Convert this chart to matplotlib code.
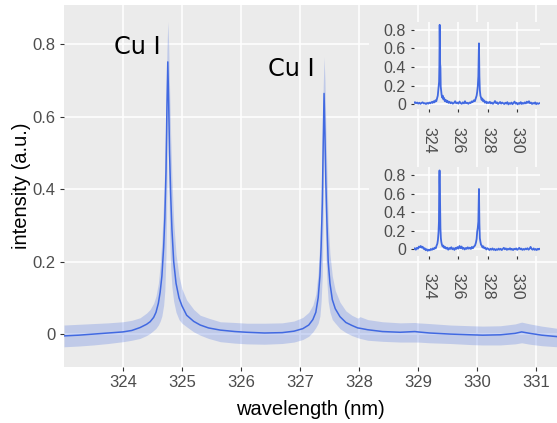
import matplotlib
matplotlib.use("Agg")
import matplotlib.pyplot as plt
from matplotlib.patches import Rectangle

# ---------------- data ----------------
main_wl = [323.00, 323.25, 323.50, 323.75, 324.00, 324.15, 324.29, 324.40, 324.46, 324.52,
           324.56, 324.60, 324.63, 324.66, 324.69, 324.71, 324.73, 324.745, 324.76, 324.775,
           324.79, 324.81, 324.83, 324.86, 324.90, 324.95, 325.00, 325.08, 325.20, 325.31,
           325.45, 325.65, 325.90, 326.10, 326.40, 326.70, 326.90, 327.05, 327.15, 327.22,
           327.27, 327.31, 327.34, 327.36, 327.38, 327.395, 327.41, 327.425, 327.44, 327.46,
           327.48, 327.51, 327.55, 327.60, 327.68, 327.78, 327.88, 327.98, 328.02, 328.15,
           328.40, 328.70, 328.95, 329.00, 329.20, 329.55, 329.90, 330.10, 330.40, 330.65,
           330.76, 330.90, 331.10, 331.36]
main_mean = [-0.005, -0.003, 0.000, 0.003, 0.006, 0.010, 0.018, 0.027, 0.034, 0.046,
             0.060, 0.085, 0.115, 0.160, 0.240, 0.320, 0.450, 0.620, 0.751, 0.640,
             0.500, 0.380, 0.290, 0.200, 0.140, 0.100, 0.078, 0.052, 0.035, 0.025,
             0.017, 0.011, 0.007, 0.005, 0.003, 0.004, 0.008, 0.015, 0.025, 0.040,
             0.060, 0.100, 0.160, 0.240, 0.360, 0.520, 0.664, 0.550, 0.420, 0.300,
             0.200, 0.140, 0.095, 0.070, 0.048, 0.032, 0.024, 0.017, 0.016, 0.012,
             0.007, 0.005, 0.007, 0.006, 0.003, 0.000, -0.002, -0.003, -0.002, 0.002,
             0.006, 0.002, -0.003, -0.007]
main_lo = [-0.035, -0.033, -0.030, -0.026, -0.021, -0.017, -0.012, -0.004, 0.002, 0.010,
           0.016, 0.025, 0.035, 0.050, 0.080, 0.120, 0.220, 0.400, 0.640, 0.450,
           0.280, 0.180, 0.130, 0.090, 0.060, 0.040, 0.030, 0.020, 0.006, -0.003,
           -0.012, -0.021, -0.025, -0.027, -0.028, -0.026, -0.022, -0.015, -0.006, 0.006,
           0.018, 0.030, 0.050, 0.090, 0.160, 0.320, 0.560, 0.360, 0.220, 0.140,
           0.090, 0.060, 0.040, 0.030, 0.015, 0.004, -0.004, -0.010, -0.012, -0.017,
           -0.020, -0.022, -0.022, -0.022, -0.024, -0.026, -0.029, -0.030, -0.030, -0.027,
           -0.024, -0.028, -0.032, -0.035]
main_hi = [0.025, 0.027, 0.029, 0.031, 0.034, 0.038, 0.045, 0.058, 0.068, 0.085,
           0.105, 0.140, 0.190, 0.260, 0.370, 0.470, 0.620, 0.780, 0.862, 0.800,
           0.680, 0.540, 0.430, 0.310, 0.220, 0.160, 0.125, 0.094, 0.068, 0.052,
           0.044, 0.034, 0.032, 0.030, 0.030, 0.031, 0.036, 0.046, 0.060, 0.080,
           0.110, 0.170, 0.260, 0.360, 0.520, 0.680, 0.765, 0.700, 0.570, 0.440,
           0.310, 0.220, 0.160, 0.120, 0.088, 0.064, 0.052, 0.044, 0.048, 0.040,
           0.034, 0.031, 0.032, 0.031, 0.029, 0.025, 0.023, 0.022, 0.023, 0.028,
           0.033, 0.028, 0.022, 0.016]

inset1_wl = [322.97, 323.05, 323.12, 323.20, 323.27, 323.35, 323.42, 323.50, 323.57, 323.65,
             323.72, 323.80, 323.88, 323.95, 324.02, 324.10, 324.18, 324.25, 324.32, 324.38,
             324.44, 324.50, 324.55, 324.60, 324.63, 324.66, 324.69, 324.71, 324.73, 324.75,
             324.76, 324.78, 324.80, 324.83, 324.86, 324.90, 324.94, 324.98, 325.03, 325.08,
             325.14, 325.20, 325.26, 325.33, 325.40, 325.47, 325.55, 325.62, 325.70, 325.78,
             325.85, 325.92, 326.00, 326.08, 326.15, 326.23, 326.30, 326.38, 326.45, 326.52,
             326.60, 326.68, 326.75, 326.83, 326.90, 326.97, 327.05, 327.12, 327.18, 327.24,
             327.28, 327.32, 327.36, 327.40, 327.43, 327.46, 327.50, 327.54, 327.58, 327.63,
             327.68, 327.74, 327.80, 327.87, 327.93, 328.00, 328.07, 328.14, 328.21, 328.28,
             328.35, 328.42, 328.49, 328.56, 328.63, 328.70, 328.77, 328.84, 328.91, 328.98,
             329.05, 329.12, 329.19, 329.26, 329.33, 329.40, 329.47, 329.54, 329.61, 329.68,
             329.75, 329.82, 329.89, 329.96, 330.03, 330.10, 330.17, 330.24, 330.31, 330.38,
             330.45, 330.52, 330.59, 330.66, 330.73, 330.80, 330.87, 330.94, 331.01, 331.08,
             331.15, 331.22, 331.29, 331.36, 331.43, 331.51]
inset1_int = [0.010, 0.020, 0.008, 0.016, 0.004, 0.014, 0.002, 0.012, 0.018, 0.006,
              0.010, 0.000, 0.012, 0.004, 0.016, 0.008, 0.022, 0.012, 0.030, 0.018,
              0.040, 0.030, 0.060, 0.090, 0.140, 0.200, 0.240, 0.420, 0.855, 0.600,
              0.430, 0.400, 0.190, 0.140, 0.100, 0.070, 0.090, 0.050, 0.065, 0.030,
              0.045, 0.020, 0.035, 0.012, 0.025, 0.008, 0.018, 0.004, 0.012, 0.030,
              0.008, 0.016, 0.004, 0.026, 0.010, 0.002, 0.018, 0.006, 0.030, 0.008,
              0.014, 0.002, 0.016, 0.010, 0.028, 0.020, 0.040, 0.030, 0.060, 0.090,
              0.130, 0.190, 0.300, 0.655, 0.300, 0.150, 0.090, 0.070, 0.045, 0.060,
              0.030, 0.040, 0.015, 0.028, 0.008, 0.020, 0.010, 0.024, 0.006, 0.016,
              0.002, 0.014, 0.032, 0.010, 0.018, 0.000, 0.012, 0.022, 0.004, 0.016,
              0.008, 0.000, 0.014, 0.004, 0.020, -0.004, 0.010, 0.002, 0.016, -0.002,
              0.012, 0.026, 0.004, 0.014, -0.004, 0.010, 0.002, 0.020, 0.000, 0.012,
              0.004, 0.018, 0.006, 0.026, 0.012, 0.030, 0.008, 0.016, 0.000, 0.012,
              0.004, 0.018, -0.002, 0.010, 0.002, 0.008]

inset2_wl = [322.97, 323.04, 323.11, 323.18, 323.25, 323.32, 323.38, 323.44, 323.50, 323.57,
             323.64, 323.71, 323.78, 323.85, 323.92, 323.99, 324.06, 324.13, 324.20, 324.27,
             324.34, 324.40, 324.46, 324.52, 324.57, 324.61, 324.65, 324.68, 324.70, 324.72,
             324.74, 324.76, 324.78, 324.81, 324.84, 324.88, 324.93, 324.98, 325.04, 325.10,
             325.17, 325.24, 325.31, 325.38, 325.45, 325.52, 325.59, 325.66, 325.73, 325.80,
             325.87, 325.94, 326.01, 326.08, 326.15, 326.22, 326.29, 326.36, 326.43, 326.50,
             326.57, 326.64, 326.71, 326.78, 326.85, 326.92, 326.99, 327.06, 327.13, 327.19,
             327.24, 327.28, 327.32, 327.36, 327.40, 327.43, 327.46, 327.50, 327.54, 327.59,
             327.64, 327.70, 327.76, 327.83, 327.90, 327.97, 328.04, 328.11, 328.18, 328.25,
             328.32, 328.39, 328.46, 328.53, 328.60, 328.67, 328.74, 328.81, 328.88, 328.95,
             329.02, 329.09, 329.16, 329.23, 329.30, 329.37, 329.44, 329.51, 329.58, 329.65,
             329.72, 329.79, 329.86, 329.93, 330.00, 330.07, 330.14, 330.21, 330.28, 330.35,
             330.42, 330.49, 330.56, 330.63, 330.70, 330.77, 330.84, 330.91, 330.98, 331.05,
             331.12, 331.19, 331.26, 331.33, 331.40, 331.47, 331.51]
inset2_int = [0.002, 0.012, -0.004, 0.016, 0.006, 0.030, 0.020, 0.036, 0.018, 0.028,
              0.004, 0.012, -0.010, 0.002, -0.016, -0.004, -0.012, 0.004, -0.006, 0.010,
              0.002, 0.018, 0.010, 0.040, 0.060, 0.100, 0.180, 0.300, 0.720, 0.850,
              0.700, 0.420, 0.230, 0.120, 0.080, 0.050, 0.030, 0.040, 0.015, 0.026,
              0.006, 0.018, -0.004, 0.014, 0.004, 0.022, 0.000, 0.012, -0.006, 0.016,
              0.004, 0.024, 0.008, 0.036, 0.012, 0.030, 0.004, 0.016, -0.002, 0.014,
              0.004, 0.022, 0.006, 0.018, 0.004, 0.026, 0.012, 0.030, 0.040, 0.070,
              0.110, 0.190, 0.230, 0.300, 0.650, 0.280, 0.120, 0.080, 0.050, 0.040,
              0.020, 0.032, 0.010, 0.018, -0.002, 0.012, 0.004, -0.008, 0.006, -0.004,
              0.010, -0.006, 0.004, -0.010, 0.002, -0.006, 0.008, -0.004, 0.006, -0.008,
              0.004, 0.016, 0.000, 0.010, -0.006, 0.006, -0.002, 0.012, -0.004, 0.004,
              -0.008, 0.006, 0.000, 0.010, -0.006, 0.004, 0.016, 0.000, 0.008, -0.006,
              0.004, -0.004, 0.008, 0.000, 0.012, -0.004, 0.006, 0.026, 0.004, -0.004,
              0.010, -0.006, 0.004, -0.008, 0.006, -0.002, 0.004]

x_ticks = [324, 325, 326, 327, 328, 329, 330, 331]
y_ticks = [0, 0.2, 0.4, 0.6, 0.8]
y_tick_labels = ["0", "0.2", "0.4", "0.6", "0.8"]
inset_x_ticks = [324, 326, 328, 330]
labels = ["Cu I", "Cu I"]
label_x = [324.24, 326.86]
label_y = [0.772, 0.712]

# ---------------- style ----------------
BG = "#EBEBEB"
LINE = "#4169E1"
TXT = "#4D4D4D"
W, H = 557, 423

fig = plt.figure(figsize=(W / 100, H / 100), dpi=100)
fig.patch.set_facecolor("white")


def style_axes(ax, fs, tick_len, pad):
    ax.set_facecolor(BG)
    for s in ax.spines.values():
        s.set_visible(False)
    ax.grid(True, color="white", linewidth=1.1)
    ax.set_axisbelow(True)
    ax.tick_params(colors="#333333", length=tick_len, width=0.8, labelsize=fs,
                   labelcolor=TXT, pad=pad)


# main axes
ax = fig.add_axes([64 / W, 1 - 366.7 / H, (W - 64) / W, (366.7 - 5) / H])
style_axes(ax, 12, 2.9, 3.0)
ax.fill_between(main_wl, main_lo, main_hi, color=LINE, alpha=0.25, linewidth=0)
ax.plot(main_wl, main_mean, color=LINE, lw=1.1)
ax.set_xlim(323.0, 331.36)
ax.set_ylim(-0.09, 0.908)
ax.set_xticks(x_ticks)
ax.set_xticklabels([str(t) for t in x_ticks])
ax.set_yticks(y_ticks)
ax.set_yticklabels(y_tick_labels)
ax.set_xlabel("wavelength (nm)", fontsize=14.5, color="black", labelpad=7,
              family="Liberation Sans")
ax.set_ylabel("intensity (a.u.)", fontsize=14.5, color="black", labelpad=1,
              family="Liberation Sans")
for lab in ax.get_xticklabels() + ax.get_yticklabels():
    lab.set_family("Liberation Sans")
for t, xx, yy in zip(labels, label_x, label_y):
    ax.text(xx, yy, t, ha="center", va="baseline", fontsize=17.3,
            family="DejaVu Sans", color="black")

# insets
inset_specs = [
    (inset1_wl, inset1_int, 21.7, 109.3, (-0.057, 0.889)),
    (inset2_wl, inset2_int, 166.7, 256.0, (-0.072, 0.89)),
]
for wl, inten, top, bot, ylim in inset_specs:
    rect = Rectangle((369 / W, 1 - bot / H), (540 - 369) / W, (bot - top) / H,
                     transform=fig.transFigure, facecolor=BG, edgecolor="none",
                     zorder=1)
    fig.add_artist(rect)
    ia = fig.add_axes([413.5 / W, 1 - bot / H, (540 - 413.5) / W, (bot - top) / H])
    ia.set_zorder(2)
    style_axes(ia, 11.5, 2.4, 3.0)
    ia.plot(wl, inten, color=LINE, lw=1.3)
    ia.set_xlim(322.95, 331.55)
    ia.set_ylim(*ylim)
    ia.set_xticks(inset_x_ticks)
    ia.set_xticklabels([str(t) for t in inset_x_ticks], rotation=-90)
    ia.set_yticks(y_ticks)
    ia.set_yticklabels(y_tick_labels)
    ia.tick_params(axis="x", pad=10)
    for lab in ia.get_xticklabels() + ia.get_yticklabels():
        lab.set_family("Liberation Sans")

fig.savefig("out.png", dpi=100)
